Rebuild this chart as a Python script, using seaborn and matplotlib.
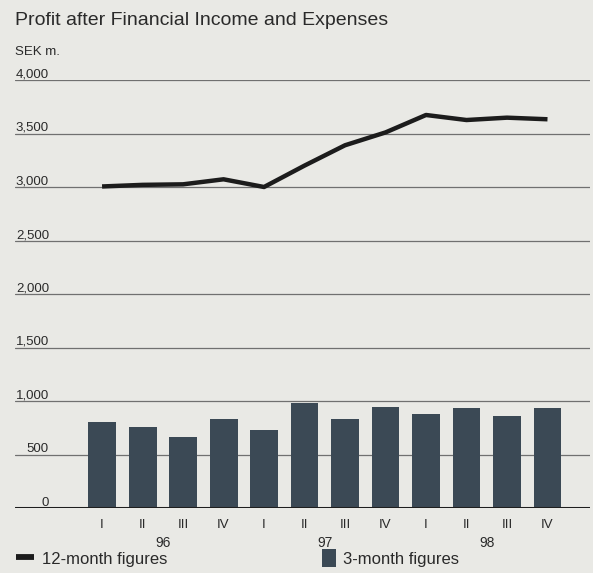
import matplotlib
matplotlib.use("Agg")
import matplotlib.pyplot as plt
import matplotlib.transforms as mtransforms
from matplotlib.lines import Line2D
from matplotlib.patches import Patch
import seaborn as sns
import pandas as pd

# ---- data ----
quarters = ["I", "II", "III", "IV"] * 3
years = ["96", "97", "98"]
period_keys = [f"{y} {q}" for y in years for q in ["I", "II", "III", "IV"]]
three_month = [800, 760, 660, 830, 730, 985, 832, 947, 876, 935, 860, 932]
twelve_month = [3005, 3020, 3025, 3072, 3000, 3200, 3390, 3510, 3673, 3626, 3648, 3633]
y_ticks = [0, 500, 1000, 1500, 2000, 2500, 3000, 3500, 4000]

title = "Profit after Financial Income and Expenses"
unit = "SEK m."
legend_line = "12-month figures"
legend_bar = "3-month figures"

df = pd.DataFrame({"period": period_keys, "quarter": quarters,
                   "three": three_month, "twelve": twelve_month})

BG = "#e9e9e5"
BAR = "#3b4955"
GRID = "#707070"
TXT = "#2a2a2a"

sns.set_theme(style="white")
plt.rcParams["font.family"] = ["Liberation Sans", "DejaVu Sans"]

W, H = 593, 573
fig = plt.figure(figsize=(W / 100, H / 100), dpi=100, facecolor=BG)
ax = fig.add_axes([15 / W, 1 - 508 / H, 575 / W, 428 / H])
ax.set_facecolor(BG)

sns.barplot(data=df, x="period", y="three", order=period_keys, color=BAR,
            saturation=1, width=0.69, ax=ax, zorder=2, edgecolor="none", linewidth=0)
sns.lineplot(x=range(len(period_keys)), y=df["twelve"], color="#1c1c1c",
             linewidth=3.2, ax=ax, zorder=4, solid_joinstyle="round",
             solid_capstyle="butt")

ax.set_xlim(-2.15, 12.05)
ax.set_ylim(0, 4000)

for s in ax.spines.values():
    s.set_visible(False)

# grid lines
for v in y_ticks:
    if v == 0:
        ax.axhline(v, color="#1e1e1e", linewidth=2.2, zorder=3)
    else:
        ax.axhline(v, color=GRID, linewidth=0.9, zorder=1)

ax.set_yticks([])
ax.set_ylabel("")
ax.set_xlabel("")

# y labels above lines, right-aligned
lab_tr = mtransforms.offset_copy(ax.get_yaxis_transform(), fig=fig, x=0, y=2.5, units="dots")
for v in y_ticks:
    ax.text((49 - 15) / 575, v, f"{v:,}", transform=lab_tr, ha="right", va="baseline",
            fontsize=9.5, color=TXT)

# x tick labels
ax.set_xticks(range(len(period_keys)))
ax.set_xticklabels(quarters, fontsize=9.5, color=TXT)
ax.tick_params(axis="x", length=0, pad=8)

# year labels
for i, y in enumerate(years):
    ax.text(4 * i + 1.5, -(547 - 508) / 428, y, transform=ax.get_xaxis_transform(),
            ha="center", va="baseline", fontsize=10, color=TXT)

fig.text(15 / W, 1 - 25 / H, title, fontsize=14, color=TXT, va="baseline")
fig.text(15 / W, 1 - 55 / H, unit, fontsize=9.5, color=TXT, va="baseline")

leg1 = fig.legend(handles=[Line2D([0], [0], color="#1c1c1c", linewidth=4.2,
                                  solid_capstyle="butt")],
                  labels=[legend_line], loc="center left",
                  bbox_to_anchor=(16 / W, 1 - 558 / H), frameon=False,
                  handlelength=1.05, handleheight=1.2, handletextpad=0.5,
                  borderpad=0, borderaxespad=0, fontsize=12, labelcolor=TXT)
leg2 = fig.legend(handles=[Patch(facecolor=BAR, edgecolor="none")],
                  labels=[legend_bar], loc="center left",
                  bbox_to_anchor=(322 / W, 1 - 558 / H), frameon=False,
                  handlelength=0.85, handleheight=1.2, handletextpad=0.4,
                  borderpad=0, borderaxespad=0, fontsize=12, labelcolor=TXT)

fig.savefig("out.png", dpi=100, facecolor=BG)
